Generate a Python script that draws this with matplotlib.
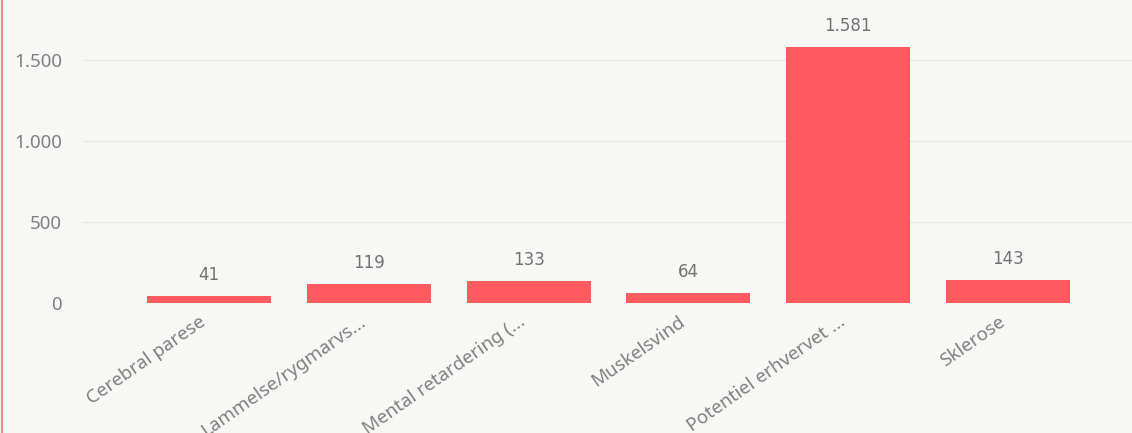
import numpy as np
import matplotlib.pyplot as plt
from matplotlib.lines import Line2D

# Dados do gráfico
categorias = ['Cerebral parese', 'Lammelse/rygmarvs...', 'Mental retardering (...',
              'Muskelsvind', 'Potentiel erhvervet ...', 'Sklerose']
valores = [41, 119, 133, 64, 1581, 143]
yticks = [0, 500, 1000, 1500]


def fmt_dk(v):
    # separador de milhar com ponto (estilo dinamarquês)
    return f'{v:,.0f}'.replace(',', '.')


fundo = '#f7f7f5'
vermelho = '#fe5a5f'
cinza = '#808080'

fig = plt.figure(figsize=(11.32, 4.33), dpi=100, facecolor=fundo)
ax = fig.add_axes([83 / 1132, 130 / 433, 1 - 83 / 1132, 303 / 433])
ax.set_facecolor(fundo)

x = np.arange(len(categorias))
ax.bar(x, valores, width=0.775, color=vermelho, zorder=3)

for xi, v in zip(x, valores):
    ax.annotate(fmt_dk(v), (xi, v), xytext=(0, 11.5), textcoords='offset points',
                ha='center', va='baseline', fontsize=12, color='#727272',
                family='DejaVu Sans')

ax.set_xlim(-0.7875, len(categorias) - 1 + 0.775)
ax.set_ylim(0, 1870)
ax.set_yticks(yticks)
ax.set_yticklabels([fmt_dk(t) for t in yticks], family='Noto Sans', fontsize=13.5, color=cinza)
ax.set_xticks(x)
# caixa rodada alinhada pelo canto superior direito (como no Power BI)
ax.set_xticklabels(categorias, rotation=35, ha='right', va='top',
                   family='Noto Sans', fontsize=13.5, color=cinza)
ax.tick_params(axis='y', length=0, pad=15)
ax.tick_params(axis='x', length=0, pad=7)

ax.grid(axis='y', color='#e8e8e6', linewidth=1, zorder=0)
for s in ax.spines.values():
    s.set_visible(False)

# borda vermelha à esquerda
fig.add_artist(Line2D([1.5 / 1132, 1.5 / 1132], [0, 1], transform=fig.transFigure,
                      color='#f08a8a', linewidth=1.5))

fig.savefig('out.png', dpi=100, facecolor=fundo)
